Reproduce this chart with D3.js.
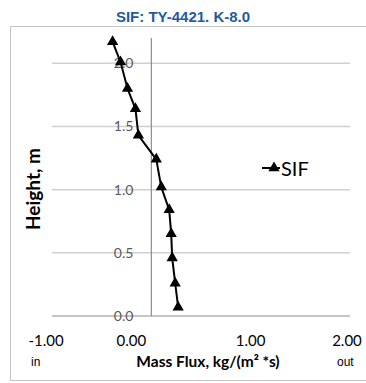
<!DOCTYPE html>
<html>
<head>
<meta charset="utf-8">
<script src="https://cdn.jsdelivr.net/npm/d3@7"></script>
<style>
  body { margin: 0; background: #fff; }
  svg { display: block; }
</style>
</head>
<body>
<svg id="chart" width="366" height="383"></svg>
<script>
// values
const massFlux = [0.27, 0.24, 0.21, 0.20, 0.18, 0.10, 0.05, -0.13, -0.16, -0.24, -0.31, -0.39];
const heights  = [0.07, 0.26, 0.46, 0.65, 0.84, 1.02, 1.24, 1.43, 1.64, 1.80, 2.01, 2.17];
const xTicks = [-1, 0, 1, 2];
const yTicks = [0, 0.5, 1.0, 1.5, 2.0];
const seriesName = "SIF";

const fontCal = "Lato, Carlito, sans-serif";
const fmt = d3.formatLocale({ decimal: ".", thousands: ",", grouping: [3], currency: ["", ""], minus: "-" });

const svg = d3.select("#chart");

const x = d3.scaleLinear().domain([-1, 2]).range([52, 350]);
const y = d3.scaleLinear().domain([0, 2.2]).range([316, 38]);

// outer chart border
svg.append("rect")
  .attr("x", 10.5).attr("y", 26.5)
  .attr("width", 370).attr("height", 354)
  .attr("fill", "none")
  .attr("stroke", "#c4c4c4");

// title
svg.append("text")
  .attr("x", 183).attr("y", 22)
  .attr("text-anchor", "middle")
  .attr("font-family", "Liberation Sans, Arial, sans-serif")
  .attr("font-weight", "bold")
  .attr("font-size", 15)
  .attr("fill", "#1f5c9e")
  .text("SIF: TY-4421. K-8.0");

// horizontal gridlines
svg.append("g")
  .selectAll("line")
  .data(yTicks.filter((d) => d > 0))
  .join("line")
  .attr("x1", x(-1)).attr("x2", x(2))
  .attr("y1", (d) => y(d)).attr("y2", (d) => y(d))
  .attr("stroke", "#d0d0d0")
  .attr("stroke-width", 1.5);

// x axis line (at 0)
svg.append("line")
  .attr("x1", x(-1)).attr("x2", x(2))
  .attr("y1", y(0)).attr("y2", y(0))
  .attr("stroke", "#8c8c8c")
  .attr("stroke-width", 1.2);

// y axis line (at 0)
svg.append("line")
  .attr("x1", x(0)).attr("x2", x(0))
  .attr("y1", y(2.2)).attr("y2", y(0))
  .attr("stroke", "#8c8c8c")
  .attr("stroke-width", 1.2);

// y tick labels
svg.append("g")
  .selectAll("text")
  .data(yTicks)
  .join("text")
  .attr("x", x(0) - 18)
  .attr("y", (d) => y(d) + 5)
  .attr("text-anchor", "end")
  .attr("font-family", fontCal)
  .attr("font-size", 14)
  .attr("fill", "#595959")
  .text((d) => fmt.format(".1f")(d));

// x tick labels (zero label sits left of the axis line)
svg.append("g")
  .selectAll("text")
  .data(xTicks)
  .join("text")
  .attr("x", (d) => x(d) + (d === 0 ? -20 : d === -1 ? -6 : d === 2 ? -3 : 0))
  .attr("y", 346)
  .attr("text-anchor", "middle")
  .attr("font-family", fontCal)
  .attr("font-size", 15)
  .attr("fill", "#000")
  .text((d) => fmt.format(".2f")(d));

// axis titles
svg.append("text")
  .attr("transform", "translate(40,189) rotate(-90)")
  .attr("text-anchor", "middle")
  .attr("font-family", fontCal)
  .attr("font-weight", "bold")
  .attr("font-size", 19)
  .text("Height, m");

svg.append("text")
  .attr("x", 208).attr("y", 367)
  .attr("text-anchor", "middle")
  .attr("font-family", fontCal)
  .attr("font-weight", "bold")
  .attr("font-size", 15.5)
  .text("Mass Flux, kg/(m² *s)");

svg.append("text")
  .attr("x", 31).attr("y", 366)
  .attr("font-family", "Liberation Sans, Arial, sans-serif")
  .attr("font-size", 12)
  .text("in");

svg.append("text")
  .attr("x", 337).attr("y", 366)
  .attr("font-family", "Liberation Sans, Arial, sans-serif")
  .attr("font-size", 12)
  .text("out");

// series line
const pts = massFlux.map((v, i) => [v, heights[i]]);
svg.append("path")
  .datum(pts)
  .attr("fill", "none")
  .attr("stroke", "#000")
  .attr("stroke-width", 2)
  .attr("d", d3.line().x((d) => x(d[0])).y((d) => y(d[1])));

const tri = d3.symbol().type(d3.symbolTriangle).size(55);
svg.append("g")
  .selectAll("path")
  .data(pts)
  .join("path")
  .attr("transform", (d) => `translate(${x(d[0])},${y(d[1])})`)
  .attr("d", tri)
  .attr("fill", "#000");

// legend
const legend = svg.append("g").attr("transform", "translate(262,168)");
legend.append("line")
  .attr("x1", 0).attr("x2", 18)
  .attr("stroke", "#000").attr("stroke-width", 2);
legend.append("path")
  .attr("transform", "translate(12,0)")
  .attr("d", tri)
  .attr("fill", "#000");
legend.append("text")
  .attr("x", 19).attr("y", 7.5)
  .attr("font-family", fontCal)
  .attr("font-size", 20)
  .text(seriesName);
</script>
</body>
</html>
